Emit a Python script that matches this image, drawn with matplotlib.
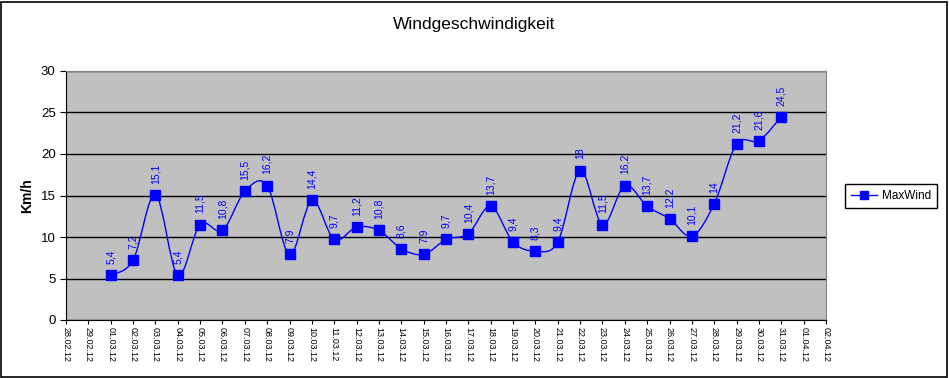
import matplotlib
matplotlib.use("Agg")
import matplotlib.pyplot as plt
from matplotlib.path import Path
from matplotlib.patches import PathPatch, Rectangle
from matplotlib.lines import Line2D

plt.rcParams['font.family'] = ['Liberation Sans', 'DejaVu Sans']

tick_labels = ["28.02.12", "29.02.12"] + [f"{d:02d}.03.12" for d in range(1, 32)] + ["01.04.12", "02.04.12"]
dates = [f"{d:02d}.03.12" for d in range(1, 32)]
max_wind = [5.4, 7.2, 15.1, 5.4, 11.5, 10.8, 15.5, 16.2, 7.9, 14.4,
            9.7, 11.2, 10.8, 8.6, 7.9, 9.7, 10.4, 13.7, 9.4, 8.3,
            9.4, 18, 11.5, 16.2, 13.7, 12.2, 10.1, 14, 21.2, 21.6, 24.5]
series_name = "MaxWind"
title = "Windgeschwindigkeit"
ylabel = "Km/h"

W, H = 949, 378
fig = plt.figure(figsize=(W / 100, H / 100), dpi=100)
ax = fig.add_axes([66 / W, 1 - 320 / H, (826 - 66) / W, (320 - 71) / H])
ax.set_facecolor("#C0C0C0")

xs = [tick_labels.index(d) for d in dates]
ys = max_wind

# smoothed line (Excel-like Bezier through points)
n = len(xs)
verts = [(xs[0], ys[0])]
codes = [Path.MOVETO]
for i in range(n - 1):
    p0 = (xs[i - 1], ys[i - 1]) if i > 0 else (xs[i], ys[i])
    p1 = (xs[i], ys[i])
    p2 = (xs[i + 1], ys[i + 1])
    p3 = (xs[i + 2], ys[i + 2]) if i + 2 < n else p2
    c1 = (p1[0] + (p2[0] - p0[0]) / 6, p1[1] + (p2[1] - p0[1]) / 6)
    c2 = (p2[0] - (p3[0] - p1[0]) / 6, p2[1] - (p3[1] - p1[1]) / 6)
    verts += [c1, c2, p2]
    codes += [Path.CURVE4] * 3
ax.add_patch(PathPatch(Path(verts, codes), facecolor="none", edgecolor="#0000FF", lw=1.0, zorder=3))
ax.plot(xs, ys, linestyle="none", marker="s", markersize=6.5, color="#0000FF",
        markeredgecolor="#0000FF", zorder=4)

for x, y in zip(xs, ys):
    lbl = f"{y:g}".replace(".", ",")
    ax.annotate(lbl, (x, y), xytext=(0, 8), textcoords="offset points",
                rotation=90, ha="center", va="bottom", fontsize=7.5, color="#0000FF")

ax.set_xlim(0, len(tick_labels) - 1)
ax.set_ylim(0, 30)
ax.set_yticks(range(0, 31, 5))
ax.set_xticks(range(len(tick_labels)))
ax.set_xticklabels(tick_labels, rotation=270, fontsize=6.5)
ax.tick_params(axis="y", labelsize=9.5, length=4, direction="out", width=0.8)
ax.tick_params(axis="x", length=3, direction="out", width=0.8, pad=2)
ax.yaxis.grid(True, color="black", lw=1)
ax.set_axisbelow(True)
for s in ["top", "right"]:
    ax.spines[s].set_color("#808080")
for s in ["left", "bottom"]:
    ax.spines[s].set_color("black")
ax.set_ylabel(ylabel, fontsize=10, fontweight="bold", labelpad=5)

fig.text(474 / W, 1 - 24 / H, title, ha="center", va="center", fontsize=12.5)

handle = Line2D([], [], color="#0000FF", marker="s", markersize=6, lw=1)
fig.legend([handle], [series_name], loc="center", bbox_to_anchor=(891 / W, 1 - 196 / H),
           fontsize=8.5, frameon=True, fancybox=False, edgecolor="black", handlelength=2.2,
           handletextpad=0.4, borderpad=0.5, framealpha=1)

fig.patches.append(Rectangle((0.5 / W, 1.5 / H), (W - 3) / W, (H - 3) / H, transform=fig.transFigure,
                             fill=False, edgecolor="black", lw=1.2))

fig.savefig("out.png", dpi=100, facecolor="white")
